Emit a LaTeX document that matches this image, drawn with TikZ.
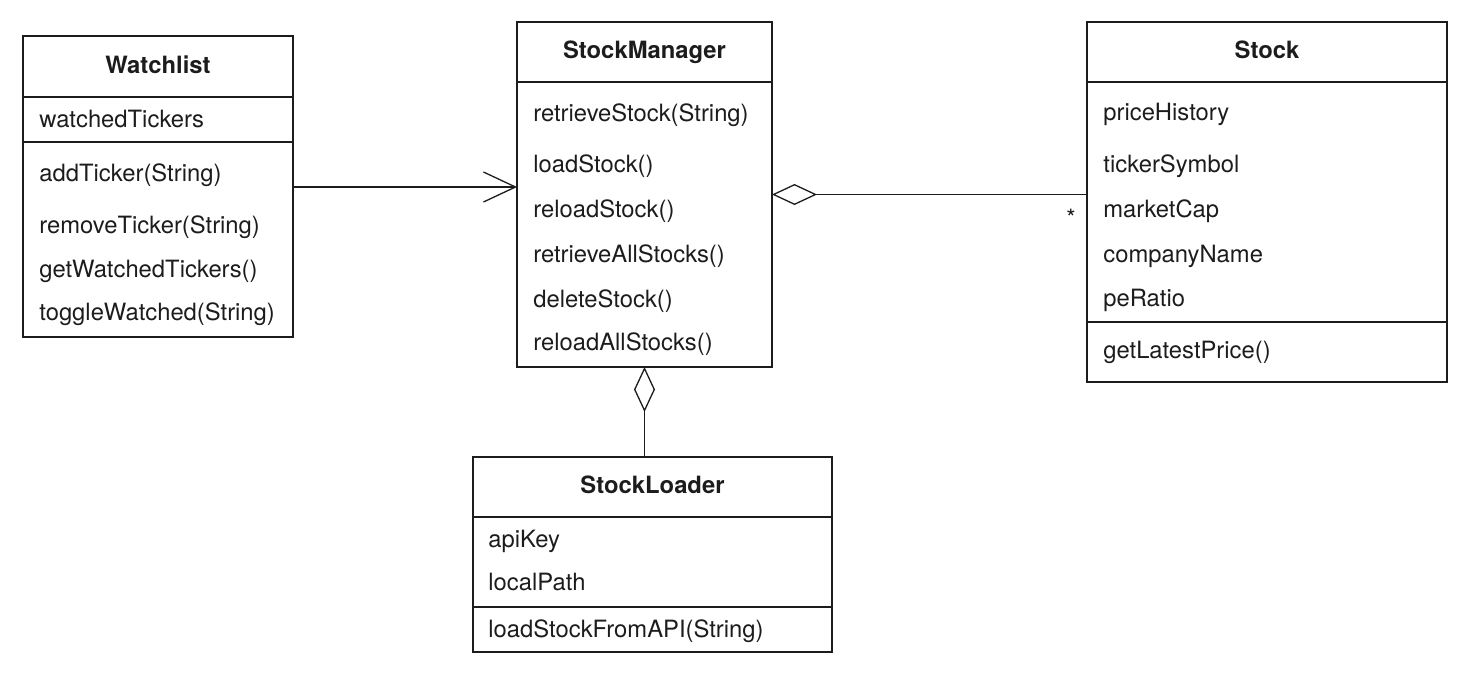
\documentclass[tikz,border=0pt]{standalone}
\usepackage{fontspec}
\setmainfont{TeX Gyre Heros}
\usepackage{tikz}
\usetikzlibrary{
  arrows.meta,
  positioning
}
\definecolor{umlline}{HTML}{1C1C1C}
\newcommand{\umlsize}{\fontsize{11.9}{14.3}\selectfont}
\tikzset{
  classhead/.style={draw=umlline, line width=0.75pt, anchor=north west,
    inner sep=0pt, outer sep=0pt, text=umlline,
    font=\umlsize\bfseries, text height=8.6pt, text depth=2pt},
  compart/.style={draw=umlline, line width=0.75pt,
    inner sep=0pt, outer sep=0pt},
  member/.style={anchor=base west, inner sep=0pt, text=umlline,
    font=\umlsize},
  mult/.style={anchor=base, inner sep=0pt, text=umlline,
    font=\umlsize},
  assoc/.style={-{Straight Barb[length=16pt, width=15pt]},
    draw=umlline, line width=0.65pt},
  aggr/.style={{Diamond[fill=white, length=22.5pt, width=10.5pt]}-,
    draw=umlline, line width=0.65pt},
}

\begin{document}
\begin{tikzpicture}[x=0.5pt, y=-0.5pt]
  \useasboundingbox (0,0) rectangle (1470,675);

  % Watchlist
  \node[classhead, minimum width=135pt, minimum height=30.5pt] (wl) at (23,36) {Watchlist};
  \node[compart, minimum width=135pt, minimum height=22.5pt, below=0pt of wl] (wl-attr) {};
  \node[compart, minimum width=135pt, minimum height=97.5pt, below=0pt of wl-attr] (wl-ops) {};
  \node[member] (wl-a1) at (39,127) {watchedTickers};
  \node[member] (wl-m1) at (39,181) {addTicker(String)};
  \node[member] (wl-m2) at (39,233) {removeTicker(String)};
  \node[member] (wl-m3) at (39,277) {getWatchedTickers()};
  \node[member] (wl-m4) at (39,320) {toggleWatched(String)};

  % StockManager
  \node[classhead, minimum width=127.5pt, minimum height=30pt] (sm) at (517,22) {StockManager};
  \node[compart, minimum width=127.5pt, minimum height=142.5pt, below=0pt of sm] (sm-ops) {};
  \node[member] (sm-m1) at (533,121) {retrieveStock(String)};
  \node[member] (sm-m2) at (533,172) {loadStock()};
  \node[member] (sm-m3) at (533,217) {reloadStock()};
  \node[member] (sm-m4) at (533,262) {retrieveAllStocks()};
  \node[member] (sm-m5) at (533,307) {deleteStock()};
  \node[member] (sm-m6) at (533,350) {reloadAllStocks()};

  % Stock
  \node[classhead, minimum width=180pt, minimum height=30pt] (st) at (1087,22) {Stock};
  \node[compart, minimum width=180pt, minimum height=120pt, below=0pt of st] (st-attr) {};
  \node[compart, minimum width=180pt, minimum height=30pt, below=0pt of st-attr] (st-ops) {};
  \node[member] (st-a1) at (1103,120) {priceHistory};
  \node[member] (st-a2) at (1103,172) {tickerSymbol};
  \node[member] (st-a3) at (1103,217) {marketCap};
  \node[member] (st-a4) at (1103,262) {companyName};
  \node[member] (st-a5) at (1103,306) {peRatio};
  \node[member] (st-m1) at (1103,358) {getLatestPrice()};

  % StockLoader
  \node[classhead, minimum width=179.5pt, minimum height=30pt] (sl) at (473,457) {StockLoader};
  \node[compart, minimum width=179.5pt, minimum height=45pt, below=0pt of sl] (sl-attr) {};
  \node[compart, minimum width=179.5pt, minimum height=22.5pt, below=0pt of sl-attr] (sl-ops) {};
  \node[member] (sl-a1) at (488,547) {apiKey};
  \node[member] (sl-a2) at (488,590) {localPath};
  \node[member] (sl-m1) at (488,637) {loadStockFromAPI(String)};

  % relations
  \draw[assoc] ([yshift=-22.5pt]wl-ops.north east) -- ([yshift=-22.5pt]wl-ops.north east -| sm-ops.west);
  \draw[aggr] ([yshift=-56.25pt]sm-ops.north east) -- ([yshift=-56.25pt]sm-ops.north east -| st-attr.west);
  \draw[aggr] (sm-ops.south) -- (sm-ops.south |- sl.north);
  \node[mult] (st-mult) at (1071,226) {*};
\end{tikzpicture}
\end{document}
